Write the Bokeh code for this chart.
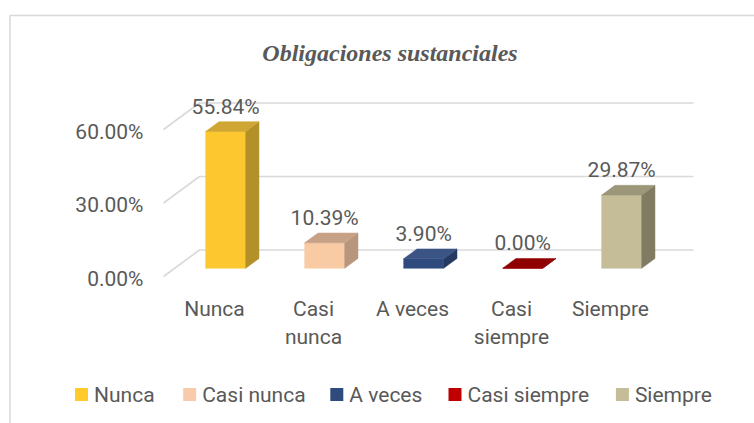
from bokeh.plotting import figure
from bokeh.models import Range1d
from bokeh.embed import file_html
from bokeh.resources import INLINE
from bokeh.core.properties import value

# ---------------- data ----------------
title = "Obligaciones sustanciales"
categories = ["Nunca", "Casi nunca", "A veces", "Casi siempre", "Siempre"]
axis_labels = ["Nunca", "Casi\nnunca", "A veces", "Casi\nsiempre", "Siempre"]
values = [55.84, 10.39, 3.90, 0.00, 29.87]
y_ticks = [0, 30, 60]
front_colors = ["#FDC82F", "#F8CBA5", "#2F4B7E", "#C00000", "#C4BD98"]
top_colors = ["#CFA633", "#C6A186", "#3B5485", "#8F0000", "#9C9779"]
side_colors = ["#B39028", "#B8967E", "#243A62", "#700000", "#807C62"]
legend_colors = ["#FFCA2A", "#F8CBAD", "#2F4B7E", "#C00000", "#C4BD97"]

# ---------------- layout (page pixels -> data units) ----------------
W, H = 754, 423
X0_PX, PX_PER_CAT = 214.0, 99.0     # page x of first category on front plane
Y0_PX, PX_PER_PCT = 276.0, 2.45     # page y of 0% on front plane

def X(px):
    return (px - X0_PX) / PX_PER_CAT

def Y(py):
    return (Y0_PX - py) / PX_PER_PCT

def ddx(px):
    return px / PX_PER_CAT

def ddy(px):
    return px / PX_PER_PCT

DEPTH_X, DEPTH_Y = ddx(36), ddy(26.5)   # full depth of the 3D floor
F1, F2 = 0.31, 0.68                      # bar front / back depth fractions
HALF_W = ddx(20)

TXT = "#595959"
GRID = "#D9D9D9"
FONT = "Roboto"
FS = "21px"

p = figure(width=W, height=H,
           x_range=Range1d(X(0), X(W)), y_range=Range1d(Y(H), Y(0)),
           output_backend="svg", toolbar_location=None,
           x_axis_type=None, y_axis_type=None, min_border=0)
p.outline_line_color = None
p.background_fill_color = "white"
p.border_fill_color = "white"
p.grid.visible = False

# chart frame (left and top edges visible)
p.line([X(9.5), X(9.5), X(W)], [Y(H), Y(15), Y(15)], line_color=GRID, line_width=1.5)

# title
p.text(x=[X(389.5)], y=[Y(52)], text=[title], text_font=value("Liberation Serif"),
       text_font_style="bold italic", text_font_size="24px", text_color=TXT,
       text_align="center", text_baseline="middle")

# 3D gridlines: left wall diagonal + back wall horizontal
xl = X(163)
xr = X(693)
gxs = [[xl, xl + DEPTH_X, xr] for t in y_ticks]
gys = [[t, t + DEPTH_Y, t + DEPTH_Y] for t in y_ticks]
p.multi_line(gxs, gys, line_color=GRID, line_width=1.6)

# y tick labels
p.text(x=[X(143)] * len(y_ticks), y=[t - ddy(2) for t in y_ticks],
       text=[f"{t:.2f}%" for t in y_ticks], text_font=value(FONT), text_font_size=FS,
       text_color=TXT, text_align="right", text_baseline="middle")

# bars
fl, fr, fb, ft = [], [], [], []
side_xs, side_ys, top_xs, top_ys = [], [], [], []
bx = (F2 - F1) * DEPTH_X
by = (F2 - F1) * DEPTH_Y
for i, v in enumerate(values):
    cx = i + F1 * DEPTH_X
    l, r = cx - HALF_W, cx + HALF_W
    b = F1 * DEPTH_Y
    t = b + v
    fl.append(l); fr.append(r); fb.append(b); ft.append(t)
    side_xs.append([r, r + bx, r + bx, r])
    side_ys.append([b, b + by, t + by, t])
    top_xs.append([l, r, r + bx, l + bx])
    top_ys.append([t, t, t + by, t + by])

p.quad(left=fl, right=fr, bottom=fb, top=ft, fill_color=front_colors,
       line_color=front_colors, line_width=0.5)
p.patches(side_xs, side_ys, fill_color=side_colors, line_color=side_colors, line_width=0.5)
p.patches(top_xs, top_ys, fill_color=top_colors, line_color=top_colors, line_width=0.5)

# value labels
p.text(x=[i + F1 * DEPTH_X for i in range(len(values))],
       y=[v + F2 * DEPTH_Y + ddy(15) for v in values],
       text=[f"{v:.2f}%" for v in values], text_font=value(FONT), text_font_size=FS,
       text_color=TXT, text_align="center", text_baseline="middle")

# category labels (multi-line)
lx, ly, lt = [], [], []
for i, lab in enumerate(axis_labels):
    for k, line in enumerate(lab.split("\n")):
        lx.append(i)
        ly.append(Y(308 + 28 * k))
        lt.append(line)
p.text(x=lx, y=ly, text=lt, text_font=value(FONT), text_font_size=FS,
       text_color=TXT, text_align="center", text_baseline="middle")

# legend
leg_left_px = [74.5, 182.7, 329.8, 448.0, 615.4]
SQ = 13
p.scatter(x=[X(px + SQ / 2) for px in leg_left_px], y=[Y(394)] * len(categories),
          marker="square", size=SQ, fill_color=legend_colors, line_color=None)
p.text(x=[X(px + SQ + 6) for px in leg_left_px], y=[Y(394)] * len(categories),
       text=categories, text_font=value(FONT), text_font_size=FS,
       text_color=TXT, text_align="left", text_baseline="middle")

open("out.html", "w").write(file_html(p, INLINE))
